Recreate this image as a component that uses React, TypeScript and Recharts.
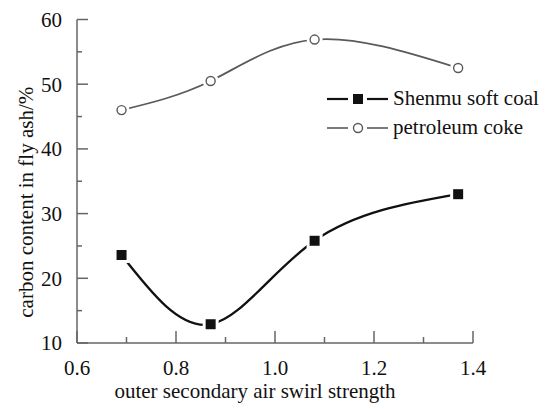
import React from 'react'
import { LineChart, Line, XAxis, YAxis, Legend } from 'recharts'

// swirl strength values (x) and the two measured series
const swirlStrength = [0.69, 0.87, 1.08, 1.37]
const shenmuCoal = [23.6, 12.9, 25.8, 33.0]
const petroleumCoke = [46.0, 50.5, 56.9, 52.5]

const xTicks = [0.6, 0.7, 0.8, 0.9, 1.0, 1.1, 1.2, 1.3, 1.4]
const yTicks = [10, 15, 20, 25, 30, 35, 40, 45, 50, 55, 60]

const seriesNames = {
  shenmu: 'Shenmu soft coal',
  coke: 'petroleum coke'
}

const data = swirlStrength.map((x, i) => ({
  x,
  shenmu: shenmuCoal[i],
  coke: petroleumCoke[i]
}))

const FONT = '"Liberation Serif", "Times New Roman", serif'
const AXIS = '#666'
const BLACK = '#111'
const GREY = '#5a5a5a'

const XTick = (props: any) => {
  const { x, y, payload, index } = props
  const major = index % 2 === 0
  return (
    <g>
      <line x1={x} y1={y} x2={x} y2={y - (major ? 12 : 6)} stroke={AXIS} strokeWidth={1.5} />
      {major && (
        <text x={x} y={y + 32} textAnchor='middle' fontFamily={FONT} fontSize={21} fill='#111'>
          {Number(payload.value).toFixed(1)}
        </text>
      )}
    </g>
  )
}

const YTick = (props: any) => {
  const { x, y, payload, index } = props
  const major = index % 2 === 0
  return (
    <g>
      <line x1={x} y1={y} x2={x + (major ? 11 : 5)} y2={y} stroke={AXIS} strokeWidth={1.5} />
      {major && (
        <text x={x - 15} y={y} dy='0.35em' textAnchor='end' fontFamily={FONT} fontSize={21} fill='#111'>
          {payload.value}
        </text>
      )}
    </g>
  )
}

const XTitle = (props: any) => {
  const { x, y, width } = props.viewBox
  return (
    <text x={x + width / 2 - 20} y={y + 55} textAnchor='middle' fontFamily={FONT} fontSize={21} fill='#111'>
      outer secondary air swirl strength
    </text>
  )
}

const YTitle = (props: any) => {
  const { y, height } = props.viewBox
  return (
    <text
      transform={`translate(33, ${y + height / 2 + 21}) rotate(-90)`}
      textAnchor='middle'
      fontFamily={FONT}
      fontSize={21}
      fill='#111'
    >
      carbon content in fly ash/%
    </text>
  )
}

const SquareDot = (props: any) => {
  const { cx, cy, index } = props
  return (
    <g key={`sq-${index}`}>
      <rect x={cx - 8} y={cy - 8} width={16} height={16} fill='#fff' />
      <rect x={cx - 5} y={cy - 5} width={10} height={10} fill={BLACK} />
    </g>
  )
}

const CircleDot = (props: any) => {
  const { cx, cy, index } = props
  return (
    <g key={`ci-${index}`}>
      <circle cx={cx} cy={cy} r={8} fill='#fff' />
      <circle cx={cx} cy={cy} r={4.5} fill='#fff' stroke={GREY} strokeWidth={1.4} />
    </g>
  )
}

const renderLegend = (props: any) => {
  const { payload } = props
  return (
    <div style={{ fontFamily: FONT, fontSize: 21, color: '#111' }}>
      {(payload || []).map((entry: any) => {
        const isCoal = entry.dataKey === 'shenmu'
        const color = isCoal ? BLACK : GREY
        return (
          <div key={entry.dataKey} style={{ display: 'flex', alignItems: 'center', height: 29 }}>
            <svg width={66} height={20}>
              <line x1={0} y1={10} x2={21} y2={10} stroke={color} strokeWidth={isCoal ? 2.2 : 1.6} />
              <line x1={40} y1={10} x2={61} y2={10} stroke={color} strokeWidth={isCoal ? 2.2 : 1.6} />
              {isCoal ? (
                <rect x={26} y={5} width={10} height={10} fill={BLACK} />
              ) : (
                <circle cx={31} cy={10} r={4.5} fill='#fff' stroke={GREY} strokeWidth={1.4} />
              )}
            </svg>
            <span style={{ whiteSpace: 'nowrap' }}>{entry.value}</span>
          </div>
        )
      })}
    </div>
  )
}

export default function App() {
  return (
    <div style={{ position: 'absolute', left: 0, top: 0, background: '#fff' }}>
      <LineChart
        width={552}
        height={409}
        data={data}
        margin={{ top: 19.5, right: 79, bottom: 0, left: 0 }}
      >
        <XAxis
          dataKey='x'
          type='number'
          domain={[0.6, 1.4]}
          ticks={xTicks}
          interval={0}
          height={66}
          tickSize={0}
          tickMargin={0}
          tickLine={false}
          tick={<XTick />}
          axisLine={{ stroke: AXIS, strokeWidth: 1.5 }}
          label={<XTitle />}
        />
        <YAxis
          type='number'
          domain={[10, 60]}
          ticks={yTicks}
          interval={0}
          width={77}
          tickSize={0}
          tickMargin={0}
          tickLine={false}
          tick={<YTick />}
          axisLine={{ stroke: AXIS, strokeWidth: 1.5 }}
          label={<YTitle />}
        />
        <Legend
          layout='vertical'
          align='center'
          verticalAlign='middle'
          content={renderLegend}
          wrapperStyle={{ left: 327, top: 84, width: 'auto' }}
        />
        <Line
          type='natural'
          dataKey='coke'
          name={seriesNames.coke}
          stroke={GREY}
          strokeWidth={1.8}
          dot={<CircleDot />}
          activeDot={false}
          isAnimationActive={false}
        />
        <Line
          type='natural'
          dataKey='shenmu'
          name={seriesNames.shenmu}
          stroke={BLACK}
          strokeWidth={2.3}
          dot={<SquareDot />}
          activeDot={false}
          isAnimationActive={false}
        />
      </LineChart>
    </div>
  )
}
